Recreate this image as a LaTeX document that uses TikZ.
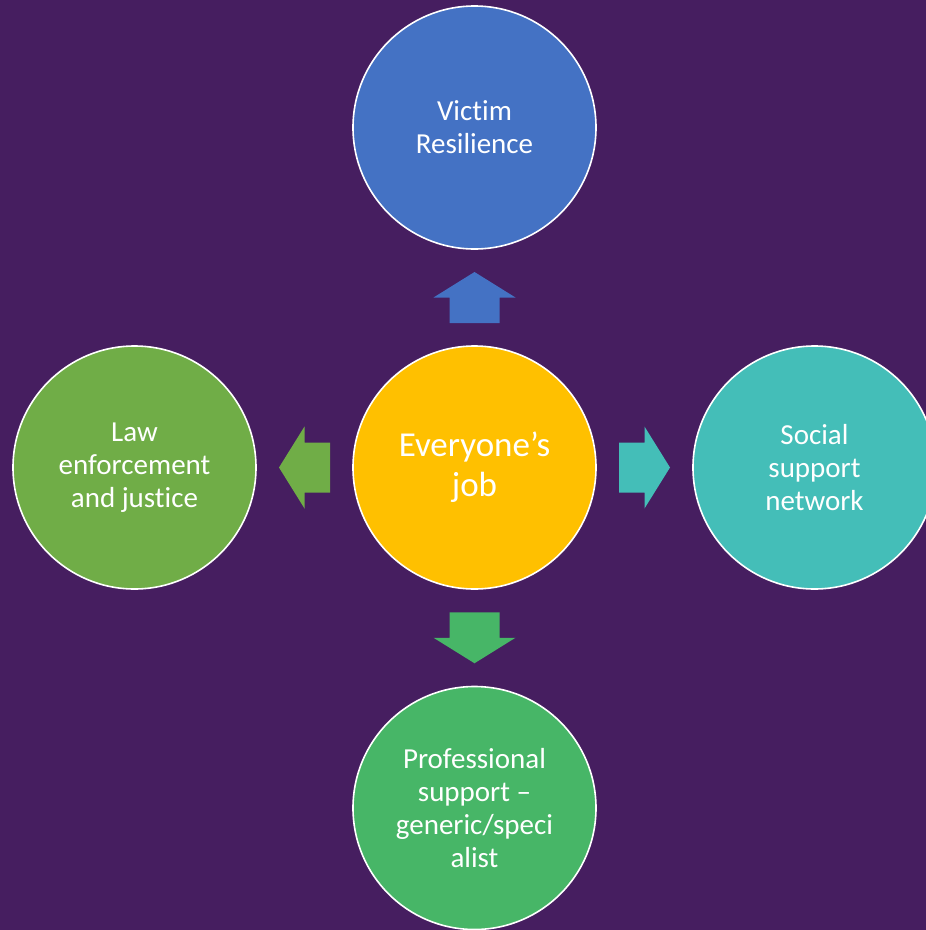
\documentclass[tikz,border=0pt]{standalone}
\usepackage{fontspec}
\setmainfont{Carlito}[Ligatures=NoCommon]
\usetikzlibrary{calc}
\definecolor{bgpurple}{RGB}{70,30,96}
\definecolor{hubgold}{RGB}{255,192,0}
\definecolor{topblue}{RGB}{68,114,196}
\definecolor{leftgreen}{RGB}{112,173,71}
\definecolor{rightteal}{RGB}{68,190,184}
\definecolor{downgreen}{RGB}{71,182,103}
\tikzset{
  bubble/.style={circle, draw=white, line width=1.6pt, minimum size=243pt,
    inner sep=0pt, align=center, text=white,
    font=\fontsize{29}{33}\selectfont},
  hub/.style={bubble, font=\fontsize{35}{40}\selectfont}
}
\begin{document}
\begin{tikzpicture}[x=1pt,y=-1pt]
  \fill[bgpurple] (0,0) rectangle (926,930);
  \useasboundingbox (0,0) rectangle (926,930);
  \clip (0,0) rectangle (926,930);
  \node[hub, fill=hubgold] (ctr) at (474.5,467.5) {Everyone’s\\job};
  \node[bubble, fill=topblue] (vic) at (474.5,127.5) {Victim\\Resilience};
  \node[bubble, fill=leftgreen] (law) at (134.5,467.5) {Law\\enforcement\\and justice};
  \node[bubble, fill=rightteal] (soc) at (814.5,467.5) {Social\\support\\network};
  \node[bubble, fill=downgreen] (pro) at (474.5,808) {Professional\\support –\\generic/speci\\alist};
  % block arrows from the hub
  \foreach \to/\ang/\col in {vic/90/topblue, law/180/leftgreen, soc/0/rightteal, pro/270/downgreen}
    \fill[\col, shift={($(ctr)!0.5!(\to)$)}, rotate=\ang]
      (-25.5,-25) -- (0,-25) -- (0,-41) -- (25.5,0) -- (0,41) -- (0,25) -- (-25.5,25) -- cycle;
\end{tikzpicture}
\end{document}
